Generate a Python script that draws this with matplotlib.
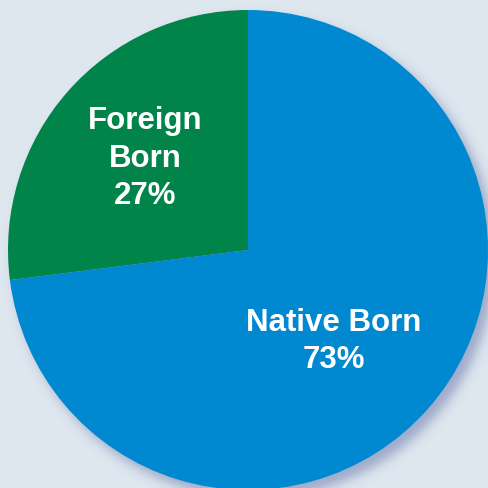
import numpy as np
import matplotlib
matplotlib.use("Agg")
import matplotlib.pyplot as plt

# Data
labels = ["Foreign\nBorn", "Native Born"]
shares = [27, 73]
colors = ["#00844a", "#0089d0"]

W, H = 488, 489
bg = "#dfe8ef"
shadow_rgb = np.array([0x9c, 0xa9, 0xc9]) / 255.0
bg_rgb = np.array([0xdf, 0xe8, 0xef]) / 255.0

fig = plt.figure(figsize=(W / 100, H / 100), dpi=100, facecolor=bg)
ax = fig.add_axes([0, 0, 1, 1])
ax.set_xlim(0, W)
ax.set_ylim(0, H)
ax.set_facecolor(bg)
ax.axis("off")

cx, cy, r = 248, H - 251, 240

# soft shadow offset down-right
yy, xx = np.mgrid[0:H, 0:W] + 0.5
sx, sy = cx + 7, cy - 8
d = np.sqrt((xx - sx) ** 2 + (yy - sy) ** 2) - r
a = 1.0 / (1.0 + np.exp(d / 3.5))
img = bg_rgb[None, None, :] * (1 - a[..., None]) + shadow_rgb[None, None, :] * a[..., None]
ax.imshow(img, extent=(0, W, 0, H), origin="lower", zorder=0, interpolation="bilinear")

wedges, _ = ax.pie(shares, colors=colors, startangle=90, counterclock=True,
                   center=(cx, cy), radius=r, frame=True,
                   wedgeprops=dict(linewidth=0))
for w in wedges:
    w.set_zorder(2)
ax.set_xlim(0, W)
ax.set_ylim(0, H)
ax.set_aspect("auto")
ax.axis("off")

font = dict(family=["Liberation Sans", "DejaVu Sans"], weight="bold", color="white",
            fontsize=22.5, ha="center", va="baseline", zorder=5)
ax.text(145, H - 129, "Foreign", **font)
ax.text(145, H - 167, "Born", **font)
ax.text(145, H - 204, f"{shares[0]}%", **font)
ax.text(334, H - 331, "Native Born", **font)
ax.text(334, H - 368, f"{shares[1]}%", **font)

fig.savefig("out.png", dpi=100, facecolor=bg)
